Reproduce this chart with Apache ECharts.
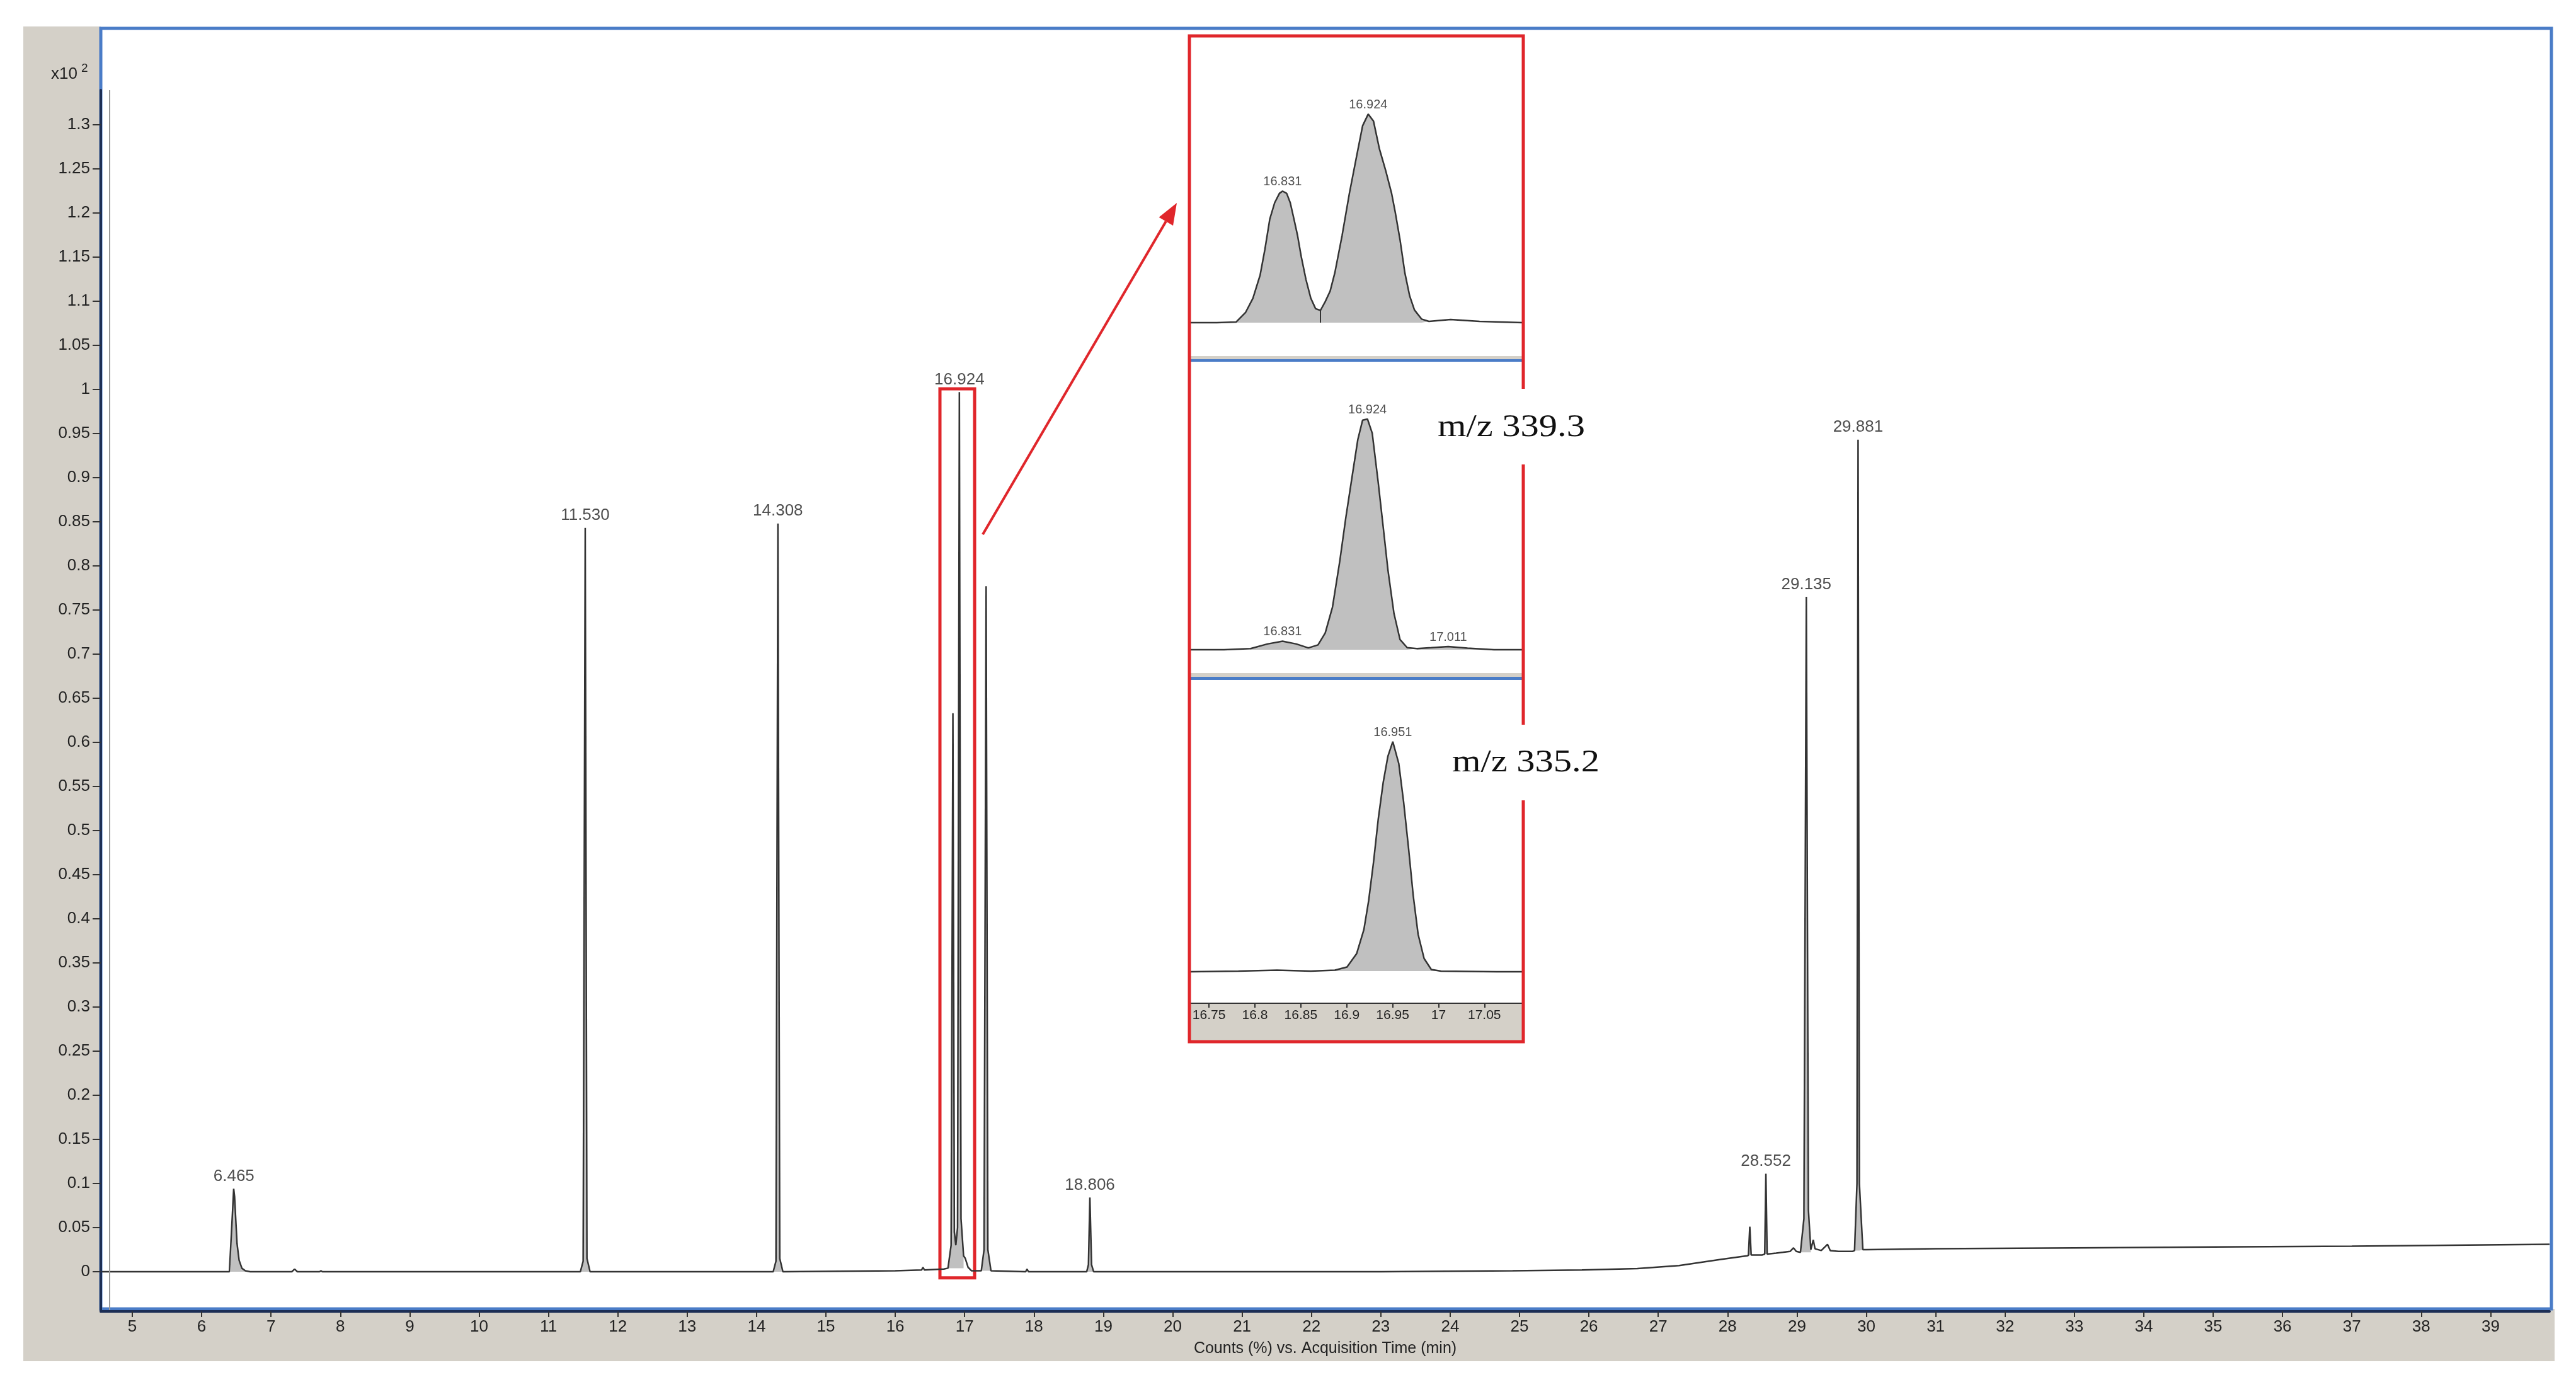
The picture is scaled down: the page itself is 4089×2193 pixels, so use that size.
<!DOCTYPE html>
<html><head><meta charset="utf-8">
<script src="https://cdn.jsdelivr.net/npm/echarts@6/dist/echarts.min.js"></script>
<style>html,body{margin:0;padding:0;background:#fff}#c{width:4089px;height:2193px}</style>
</head><body><div id="c"></div>
<script>
// ---------------- DATA ----------------
// Main total ion chromatogram: [time (min), counts (x10^2)]
const ticTrace = [
 [4.546,0.000],[5.5,0.000],[6.40,0.000],[6.418,0.001],[6.44,0.060],[6.462,0.094],[6.475,0.085],[6.49,0.062],[6.51,0.032],[6.54,0.013],[6.58,0.004],[6.63,0.001],[6.70,0.000],
 [7.30,0.000],[7.34,0.003],[7.38,0.000],[7.70,0.000],[7.72,0.001],[7.74,0.000],
 [11.46,0.000],[11.50,0.012],[11.530,0.843],[11.555,0.015],[11.60,0.000],
 [14.24,0.000],[14.28,0.012],[14.308,0.848],[14.335,0.015],[14.38,0.000],
 [16.0,0.001],[16.38,0.002],[16.40,0.005],[16.42,0.002],[16.70,0.003],
 [16.76,0.004],[16.805,0.030],[16.831,0.633],[16.852,0.045],[16.873,0.030],[16.898,0.050],[16.924,0.997],[16.948,0.060],[16.985,0.018],[17.010,0.015],[17.05,0.005],[17.10,0.001],
 [17.24,0.001],[17.28,0.025],[17.310,0.777],[17.335,0.025],[17.38,0.001],
 [17.88,0.000],[17.90,0.003],[17.92,0.000],
 [18.76,0.000],[18.785,0.008],[18.806,0.084],[18.83,0.008],[18.86,0.000],
 [21.0,0.000],[23.0,0.000],[24.9,0.001],[25.9,0.002],[26.7,0.0036],[27.3,0.007],[27.9,0.014],[28.28,0.018],
 [28.30,0.0185],[28.32,0.051],[28.34,0.019],[28.50,0.019],
 [28.535,0.020],[28.552,0.111],[28.57,0.020],[28.70,0.021],[28.90,0.023],[28.95,0.027],[28.99,0.023],
 [29.05,0.022],[29.10,0.060],[29.135,0.765],[29.165,0.070],[29.20,0.025],[29.235,0.036],[29.26,0.026],[29.35,0.024],[29.44,0.031],[29.48,0.024],[29.60,0.023],[29.80,0.023],
 [29.83,0.024],[29.865,0.100],[29.881,0.943],[29.90,0.100],[29.95,0.025],[30.0,0.025],[31.0,0.026],[33.0,0.027],[35.0,0.028],[37.0,0.029],[39.85,0.031]
];
// integrated (grey-filled) peak windows on the main trace
const ticFillRanges = [[6.418,6.70],[11.46,11.60],[14.24,14.38],[16.76,16.985],[17.24,17.38],[18.76,18.86],[28.30,28.34],[28.535,28.57],[29.05,29.20],[29.83,29.95]];
// labelled peaks on the main trace
const ticPeakTimes   = [6.465, 11.530, 14.308, 16.924, 18.806, 28.552, 29.135, 29.881];
const ticPeakHeights = [0.094, 0.843, 0.848, 0.997, 0.084, 0.111, 0.765, 0.943];
const ticPeakNames   = ['6.465','11.530','14.308','16.924','18.806','28.552','29.135','29.881'];
const ticStartMarker = 4.673;               // thin grey vertical line at start
const zoomBox = [16.644, 17.144, -0.007, 1.0007]; // red box: t1, t2, y1, y2

const xTickValues = [5,6,7,8,9,10,11,12,13,14,15,16,17,18,19,20,21,22,23,24,25,26,27,28,29,30,31,32,33,34,35,36,37,38,39];
const yTickValues = [0,0.05,0.1,0.15,0.2,0.25,0.3,0.35,0.4,0.45,0.5,0.55,0.6,0.65,0.7,0.75,0.8,0.85,0.9,0.95,1,1.05,1.1,1.15,1.2,1.25,1.3];

// Inset panel 1 (TIC zoom), relative intensity
const panel1Trace = [
 [16.7295,0],[16.7584,0],[16.7794,0.3],[16.7899,5.0],[16.7978,11.7],[16.8057,22.9],[16.8109,35.2],[16.8162,49.7],[16.8215,57.5],[16.8267,62.0],[16.8301,63.1],[16.8346,62.0],[16.8385,57.5],[16.8425,49.7],[16.8464,41.9],[16.8504,31.8],[16.8556,20.7],[16.8609,11.7],[16.8661,6.7],[16.8714,5.9],
 [16.8766,10.1],[16.8819,15.1],[16.8871,24.0],[16.8950,41.9],[16.9029,62.0],[16.9108,79.9],[16.9173,94.4],[16.9234,100],[16.9292,96.6],[16.9357,83.2],[16.9423,73.2],[16.9489,62.0],[16.9528,53.1],[16.9581,39.7],[16.9633,24.0],[16.9686,12.8],[16.9738,6.1],[16.9817,1.7],[16.9896,0.6],
 [17.0132,1.5],[17.0447,0.6],[17.0920,0]
];
const panel1FillRanges = [[16.7584,16.9896]];
const panel1DropTimes = [16.8714];
const panel1PeakTimes = [16.8301, 16.9234];
const panel1PeakNames = ['16.831','16.924'];

// Inset panel 2 (m/z 339.3)
const panel2Trace = [
 [16.7295,0],[16.7663,0],[16.7952,0.5],[16.8136,2.5],[16.8301,3.7],[16.8451,2.5],[16.8582,0.8],[16.8687,2.1],[16.8766,7.3],[16.8845,18.5],[16.8924,38.3],[16.8990,57.2],[16.9055,74.1],[16.9121,91.1],[16.9173,99.5],[16.9226,100],[16.9278,93.9],[16.9344,72.2],[16.9397,53.4],[16.9449,34.6],[16.9515,15.7],[16.9581,4.4],[16.9659,0.9],[16.9764,0.5],[16.9922,0.9],[17.0106,1.4],[17.0316,0.7],[17.0605,0],[17.0920,0]
];
const panel2FillRanges = [[16.7952,16.8582],[16.8582,16.9764],[16.9764,17.0605]];
const panel2PeakTimes = [16.8301, 16.9226, 17.0106];
const panel2PeakNames = ['16.831','16.924','17.011'];

// Inset panel 3 (m/z 335.2)
const panel3Trace = [
 [16.7295,-0.3],[16.7820,0],[16.8241,0.4],[16.8609,0],[16.8871,0.4],[16.9003,1.8],[16.9108,7.6],[16.9187,18.1],[16.9239,30.7],[16.9292,47.5],[16.9344,66.4],[16.9397,82.1],[16.9449,93.7],[16.9502,100],[16.9567,90.5],[16.9620,73.7],[16.9673,53.8],[16.9725,32.8],[16.9778,16.0],[16.9843,5.5],[16.9922,0.7],[17.0027,0],[17.0631,-0.3],[17.0920,-0.3]
];
const panel3FillRanges = [[16.8871,17.0027]];
const panel3PeakTimes = [16.9502];
const panel3PeakNames = ['16.951'];
const insetTickValues = [16.75,16.8,16.85,16.9,16.95,17,17.05];
const ionLabels = ['m/z 339.3','m/z 335.2'];

// ---------------- CHART ----------------
const F = "'Liberation Sans', Arial, sans-serif";
const SERIF = "'Liberation Serif', 'Times New Roman', serif";
const fmt = v => String(Math.round(v * 100) / 100);
const lookup = (trace, t) => trace.find(p => Math.abs(p[0] - t) < 1e-6);
const segment = (trace, r) => trace.filter(p => p[0] >= r[0] - 1e-9 && p[0] <= r[1] + 1e-9);

const series = [];
const TRACE_COLOR = '#333';
const FILL = '#c0c0c0';

// main trace
series.push({
  type: 'line', xAxisIndex: 0, yAxisIndex: 0, data: ticTrace, showSymbol: false, z: 4,
  lineStyle: { color: TRACE_COLOR, width: 2.5 }, silent: true,
  markLine: { silent: true, symbol: 'none', label: { show: false },
    lineStyle: { color: '#9a9a9a', width: 2, type: 'solid' }, data: [{ xAxis: ticStartMarker }] },
  markArea: { silent: true, itemStyle: { color: 'rgba(0,0,0,0)', borderColor: '#e0262b', borderWidth: 5 },
    data: [[{ coord: [zoomBox[0], zoomBox[3]] }, { coord: [zoomBox[1], zoomBox[2]] }]] }
});
ticFillRanges.forEach(r => {
  const seg = segment(ticTrace, r);
  const base = Math.min(seg[0][1], seg[seg.length - 1][1]);
  series.push({ type: 'line', xAxisIndex: 0, yAxisIndex: 0, data: seg, showSymbol: false, z: 3, silent: true,
    lineStyle: { width: 0 }, areaStyle: { color: FILL, opacity: 1, origin: base } });
});
series.push({
  type: 'scatter', xAxisIndex: 0, yAxisIndex: 0, symbolSize: 1, itemStyle: { color: 'rgba(0,0,0,0)' }, z: 6,
  data: ticPeakTimes.map((t, i) => [t, ticPeakHeights[i], ticPeakNames[i]]),
  label: { show: true, position: 'top', distance: 6, formatter: p => p.value[2], fontSize: 26, color: '#222', fontFamily: F }
});

function addPanel(idx, trace, fills, peakTimes, peakNames, drops) {
  series.push({ type: 'line', xAxisIndex: idx, yAxisIndex: idx, data: trace, showSymbol: false, z: 4, silent: true,
    lineStyle: { color: TRACE_COLOR, width: 2.5 } });
  fills.forEach(r => {
    const s = { type: 'line', xAxisIndex: idx, yAxisIndex: idx, data: segment(trace, r), showSymbol: false, z: 3, silent: true,
      lineStyle: { width: 0 }, areaStyle: { color: FILL, opacity: 1, origin: 0 } };
    series.push(s);
  });
  if (drops && drops.length) {
    series.push({ type: 'line', xAxisIndex: idx, yAxisIndex: idx, data: [], z: 5,
      markLine: { silent: true, symbol: 'none', label: { show: false }, lineStyle: { color: TRACE_COLOR, width: 2, type: 'solid' },
        data: drops.map(t => [{ coord: [t, 0] }, { coord: [t, lookup(trace, t)[1]] }]) } });
  }
  series.push({ type: 'scatter', xAxisIndex: idx, yAxisIndex: idx, symbolSize: 1, itemStyle: { color: 'rgba(0,0,0,0)' }, z: 6,
    data: peakTimes.map((t, i) => [t, lookup(trace, t)[1], peakNames[i]]),
    label: { show: true, position: 'top', distance: 4, formatter: p => p.value[2], fontSize: 20, color: '#222', fontFamily: F } });
}
addPanel(1, panel1Trace, panel1FillRanges, panel1PeakTimes, panel1PeakNames, panel1DropTimes);
addPanel(2, panel2Trace, panel2FillRanges, panel2PeakTimes, panel2PeakNames, []);
addPanel(3, panel3Trace, panel3FillRanges, panel3PeakTimes, panel3PeakNames, []);

const INSET_L = 1890, INSET_W = 526;
const hiddenX = i => ({ type: 'value', gridIndex: i, min: 16.73, max: 17.091, show: false });
const hiddenY = (i, mn, mx) => ({ type: 'value', gridIndex: i, min: mn, max: mx, show: false });

// arrow geometry
const A0 = [1560, 848], A1 = [1868, 322];
const dx = A1[0] - A0[0], dy = A1[1] - A0[1], L = Math.hypot(dx, dy);
const ux = dx / L, uy = dy / L, px = -uy, py = ux;
const headL = 34, headW = 13;
const bx = A1[0] - ux * headL, by = A1[1] - uy * headL;

const GRAY = '#d4d0c8', BLUE = '#4a7cc7', RED = '#e0262b';

const option = {
  animation: false,
  backgroundColor: '#ffffff',
  grid: [
    { left: 160, top: 143, width: 3887, height: 1938 },
    { left: INSET_L, top: 60, width: INSET_W, height: 505 },
    { left: INSET_L, top: 576, width: INSET_W, height: 492 },
    { left: INSET_L, top: 1080, width: INSET_W, height: 512 }
  ],
  xAxis: [
    { type: 'value', gridIndex: 0, min: 4.546, max: 39.85, z: 5,
      axisLine: { show: true, onZero: false, lineStyle: { color: '#1c2e55', width: 4 } },
      axisTick: { show: true, length: 9, customValues: xTickValues, lineStyle: { color: '#333', width: 2 } },
      axisLabel: { customValues: xTickValues, fontSize: 26, color: '#222', fontFamily: F, margin: 12, formatter: fmt },
      splitLine: { show: false },
      name: 'Counts (%) vs. Acquisition Time (min)', nameLocation: 'middle', nameGap: 47,
      nameTextStyle: { fontSize: 25, color: '#222', fontFamily: F } },
    hiddenX(1), hiddenX(2),
    { type: 'value', gridIndex: 3, min: 16.73, max: 17.091, z: 12,
      axisLine: { show: true, onZero: false, lineStyle: { color: '#333', width: 2 } },
      axisTick: { show: true, length: 7, customValues: insetTickValues, lineStyle: { color: '#333', width: 2 } },
      axisLabel: { customValues: insetTickValues, fontSize: 21, color: '#222', fontFamily: F, margin: 9, formatter: fmt },
      splitLine: { show: false } }
  ],
  yAxis: [
    { type: 'value', gridIndex: 0, min: -0.045, max: 1.3393, z: 5,
      axisLine: { show: true, onZero: false, lineStyle: { color: '#1c2e55', width: 4 } },
      axisTick: { show: true, length: 13, customValues: yTickValues, lineStyle: { color: '#333', width: 2 } },
      axisLabel: { customValues: yTickValues, fontSize: 26, color: '#222', fontFamily: F, margin: 17, formatter: fmt },
      splitLine: { show: false } },
    hiddenY(1, -16.0, 136.6), hiddenY(2, -10.1, 124.3), hiddenY(3, -14.0, 126.6)
  ],
  series: series,
  graphic: { elements: [
    // grey instrument panels
    { type: 'rect', z: -1, silent: true, shape: { x: 37, y: 42, width: 123, height: 2118 }, style: { fill: GRAY } },
    { type: 'rect', z: -1, silent: true, shape: { x: 37, y: 2077, width: 4018, height: 83 }, style: { fill: GRAY } },
    // blue plot frame
    { type: 'rect', z: 0, silent: true, shape: { x: 160, y: 45, width: 3890, height: 2032 }, style: { fill: 'none', stroke: BLUE, lineWidth: 5 } },
    // y-axis multiplier
    { type: 'text', z: 6, x: 123, y: 118, style: { text: 'x10', font: "26px " + F, fill: '#222', align: 'right', verticalAlign: 'middle', textAlign: 'right', textVerticalAlign: 'middle' } },
    { type: 'text', z: 6, x: 129, y: 109, style: { text: '2', font: "19px " + F, fill: '#222', align: 'left', verticalAlign: 'middle', textAlign: 'left', textVerticalAlign: 'middle' } },
    // inset background, separators, axis band
    { type: 'rect', z: 1, silent: true, shape: { x: 1888, y: 57, width: 530, height: 1596 }, style: { fill: '#ffffff' } },
    { type: 'rect', z: 7, silent: true, shape: { x: INSET_L, y: 565, width: INSET_W, height: 5 }, style: { fill: GRAY } },
    { type: 'rect', z: 7, silent: true, shape: { x: INSET_L, y: 570, width: INSET_W, height: 4 }, style: { fill: BLUE } },
    { type: 'rect', z: 7, silent: true, shape: { x: INSET_L, y: 1068, width: INSET_W, height: 6 }, style: { fill: GRAY } },
    { type: 'rect', z: 7, silent: true, shape: { x: INSET_L, y: 1074, width: INSET_W, height: 5 }, style: { fill: BLUE } },
    { type: 'rect', z: 1, silent: true, shape: { x: INSET_L, y: 1592, width: INSET_W, height: 60 }, style: { fill: GRAY } },
    // red inset border
    { type: 'rect', z: 20, silent: true, shape: { x: 1888, y: 57, width: 530, height: 1596 }, style: { fill: 'none', stroke: RED, lineWidth: 5 } },
    // arrow
    { type: 'line', z: 20, silent: true, shape: { x1: A0[0], y1: A0[1], x2: bx, y2: by }, style: { stroke: RED, lineWidth: 4 } },
    { type: 'polygon', z: 20, silent: true, shape: { points: [[A1[0], A1[1]], [bx + px * headW, by + py * headW], [bx - px * headW, by - py * headW]] }, style: { fill: RED } },
    // ion labels with white boxes over the red border
    { type: 'rect', z: 21, silent: true, shape: { x: 2272, y: 617, width: 262, height: 120 }, style: { fill: '#ffffff' } },
    { type: 'text', z: 22, x: 2282, y: 679, scaleX: 1.17, style: { text: ionLabels[0], font: "50px " + SERIF, fill: '#111', align: 'left', verticalAlign: 'middle', textAlign: 'left', textVerticalAlign: 'middle' } },
    { type: 'rect', z: 21, silent: true, shape: { x: 2295, y: 1150, width: 262, height: 120 }, style: { fill: '#ffffff' } },
    { type: 'text', z: 22, x: 2305, y: 1211, scaleX: 1.17, style: { text: ionLabels[1], font: "50px " + SERIF, fill: '#111', align: 'left', verticalAlign: 'middle', textAlign: 'left', textVerticalAlign: 'middle' } }
  ] }
};

const chart = echarts.init(document.getElementById('c'), null, { renderer: 'canvas', width: 4089, height: 2193 });
chart.setOption(option);
</script></body></html>
